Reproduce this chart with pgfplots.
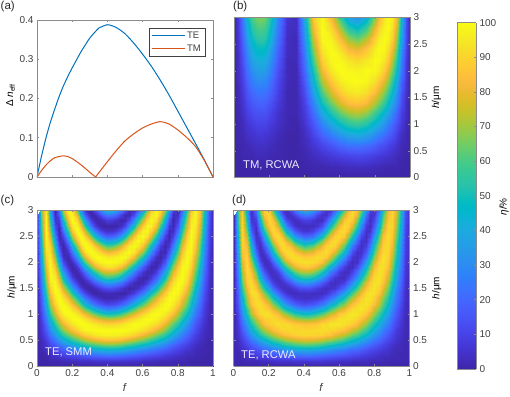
\documentclass[border=0pt]{standalone}
\usepackage{fontspec}
\setmainfont{Liberation Sans}
\usepackage{pgfplots}
\usepackage{pgfplotstable}
\pgfplotsset{compat=1.18}

\pgfplotsset{colormap={parula}{
rgb=(0.2422,0.1504,0.6603) rgb=(0.2504,0.1650,0.7076) rgb=(0.2578,0.1818,0.7511) rgb=(0.2647,0.1978,0.7952)
rgb=(0.2706,0.2147,0.8364) rgb=(0.2751,0.2342,0.8710) rgb=(0.2783,0.2559,0.8991) rgb=(0.2803,0.2782,0.9221)
rgb=(0.2813,0.3006,0.9414) rgb=(0.2810,0.3228,0.9579) rgb=(0.2795,0.3447,0.9717) rgb=(0.2760,0.3667,0.9829)
rgb=(0.2699,0.3892,0.9906) rgb=(0.2602,0.4123,0.9952) rgb=(0.2440,0.4358,0.9988) rgb=(0.2206,0.4603,0.9973)
rgb=(0.1963,0.4847,0.9892) rgb=(0.1834,0.5074,0.9798) rgb=(0.1786,0.5289,0.9682) rgb=(0.1764,0.5499,0.9520)
rgb=(0.1687,0.5703,0.9359) rgb=(0.1540,0.5902,0.9218) rgb=(0.1460,0.6091,0.9079) rgb=(0.1380,0.6276,0.8973)
rgb=(0.1248,0.6459,0.8883) rgb=(0.1113,0.6635,0.8763) rgb=(0.0952,0.6798,0.8598) rgb=(0.0689,0.6948,0.8394)
rgb=(0.0297,0.7082,0.8163) rgb=(0.0036,0.7203,0.7917) rgb=(0.0067,0.7312,0.7660) rgb=(0.0433,0.7411,0.7394)
rgb=(0.0964,0.7500,0.7120) rgb=(0.1408,0.7584,0.6842) rgb=(0.1717,0.7670,0.6554) rgb=(0.1938,0.7758,0.6251)
rgb=(0.2161,0.7843,0.5923) rgb=(0.2470,0.7918,0.5567) rgb=(0.2906,0.7973,0.5188) rgb=(0.3406,0.8008,0.4789)
rgb=(0.3909,0.8029,0.4354) rgb=(0.4456,0.8024,0.3909) rgb=(0.5044,0.7993,0.3480) rgb=(0.5616,0.7942,0.3045)
rgb=(0.6174,0.7876,0.2612) rgb=(0.6720,0.7793,0.2227) rgb=(0.7242,0.7698,0.1910) rgb=(0.7738,0.7598,0.1646)
rgb=(0.8203,0.7498,0.1535) rgb=(0.8634,0.7406,0.1596) rgb=(0.9035,0.7330,0.1774) rgb=(0.9393,0.7288,0.2100)
rgb=(0.9728,0.7298,0.2394) rgb=(0.9956,0.7434,0.2371) rgb=(0.9970,0.7659,0.2199) rgb=(0.9952,0.7893,0.2028)
rgb=(0.9892,0.8136,0.1885) rgb=(0.9786,0.8386,0.1766) rgb=(0.9676,0.8639,0.1643) rgb=(0.9610,0.8890,0.1537)
rgb=(0.9597,0.9135,0.1423) rgb=(0.9628,0.9373,0.1265) rgb=(0.9691,0.9606,0.1064) rgb=(0.9769,0.9839,0.0805)
}}

\definecolor{teblue}{rgb}{0,0.447,0.741}
\definecolor{tmred}{rgb}{0.85,0.325,0.098}
\definecolor{axgray}{gray}{0.55}
\definecolor{txtgray}{gray}{0.25}

\pgfplotsset{
  panel/.style={
    scale only axis, width=176pt, enlargelimits=false, axis on top,
    tick align=inside, major tick length=2pt,
    axis line style={axgray, line width=0.7pt},
    every tick/.style={axgray, line width=0.5pt},
    tick label style={font=\fontsize{10}{11}\selectfont, text=txtgray},
    label style={font=\fontsize{11.2}{12}\selectfont, text=txtgray},
    /pgf/number format/assume math mode=true,
    /pgf/number format/fixed,
    xmin=0, xmax=1, xtick={0,0.2,...,1},
    scaled ticks=false,
  },
  map/.style={
    panel, view={0}{90}, ymin=0, ymax=3, ytick={0,0.5,...,3},
    colormap name=parula, point meta min=0, point meta max=100,
    ylabel={\textit{h}/μm},
  },
  every axis x label/.style={at={(axis description cs:0.5,-0.16)},anchor=center},
  mapsurf/.style={surf, shader=interp, mesh/cols=#1},
}
% map b: rows h = 0, 0.2, ... 3; in each row f = 0 ... 0.2 by 0.025, ... 0.8 by 0.05, ... 1 by 0.025
\def\gridf{0.025*min(mod(\coordindex,29),8)+0.05*max(min(mod(\coordindex,29),20)-8,0)+0.025*max(mod(\coordindex,29)-20,0)}
\def\gridh{floor(\coordindex/29)*0.2}
% maps c and d: rows h = 0, 0.1, ... 3; in each row f = 0, 0.025, ... 1
\def\finef{mod(\coordindex,41)*0.025}
\def\fineh{floor(\coordindex/41)*0.1}

\pgfplotstableread{
f te tm
0 0 0
0.025 0.052 0.016
0.05 0.098 0.030
0.075 0.138 0.041
0.1 0.172 0.049
0.125 0.204 0.052
0.15 0.232 0.054
0.175 0.256 0.052
0.2 0.278 0.047
0.25 0.319 0.031
0.3 0.354 0.012
0.333 0.371 0
0.35 0.379 0.010
0.4 0.388 0.039
0.45 0.381 0.067
0.5 0.365 0.092
0.55 0.341 0.110
0.6 0.313 0.125
0.65 0.282 0.135
0.7 0.247 0.141
0.75 0.209 0.135
0.8 0.168 0.120
0.85 0.127 0.101
0.9 0.086 0.078
0.95 0.044 0.043
1 0 0
}\neff

\pgfplotstableread[row sep=\\,header=false]{
0\\0\\0\\0\\0\\0\\0\\0\\0\\0\\0\\0\\0\\0\\0\\0\\0\\0\\0\\0\\0\\0\\0\\0\\0\\0\\0\\0\\0\\
0\\0\\0\\0\\0\\0\\0\\0\\0\\0\\0\\0\\0\\1\\1\\2\\2\\3\\3\\3\\2\\2\\1\\1\\1\\1\\0\\0\\0\\
0\\0\\1\\1\\1\\2\\2\\2\\1\\1\\0\\0\\1\\3\\5\\7\\9\\10\\11\\10\\8\\7\\6\\5\\4\\2\\1\\0\\0\\
0\\0\\1\\2\\3\\4\\4\\4\\3\\1\\0\\0\\2\\6\\11\\15\\20\\23\\24\\22\\18\\15\\13\\10\\8\\5\\2\\1\\0\\
0\\1\\2\\4\\5\\6\\7\\6\\5\\2\\0\\0\\3\\10\\19\\26\\33\\38\\40\\37\\30\\26\\22\\18\\14\\8\\4\\1\\0\\
0\\1\\3\\6\\8\\10\\10\\10\\8\\4\\1\\0\\5\\15\\28\\39\\48\\54\\57\\53\\44\\39\\33\\26\\21\\13\\7\\2\\0\\
0\\1\\5\\9\\12\\14\\14\\14\\11\\5\\1\\1\\7\\21\\39\\52\\63\\70\\73\\69\\58\\52\\44\\37\\29\\19\\9\\3\\0\\
0\\2\\6\\12\\16\\18\\19\\18\\15\\7\\1\\1\\9\\28\\50\\65\\77\\84\\86\\83\\72\\65\\57\\47\\38\\25\\13\\3\\0\\
0\\2\\8\\15\\21\\23\\24\\23\\20\\9\\1\\1\\12\\36\\61\\77\\88\\94\\96\\93\\84\\77\\68\\58\\47\\31\\16\\5\\0\\
0\\3\\10\\19\\26\\29\\30\\29\\24\\11\\2\\1\\15\\44\\72\\87\\96\\99\\100\\99\\93\\87\\79\\69\\56\\38\\20\\6\\0\\
0\\4\\12\\23\\31\\35\\36\\35\\29\\13\\2\\1\\19\\51\\81\\95\\100\\99\\98\\100\\99\\95\\88\\78\\65\\45\\25\\7\\0\\
0\\4\\15\\27\\37\\41\\42\\41\\34\\16\\2\\2\\22\\59\\89\\99\\99\\94\\91\\95\\100\\99\\95\\87\\74\\53\\29\\8\\0\\
0\\5\\18\\31\\42\\47\\48\\47\\40\\19\\3\\2\\26\\67\\95\\100\\93\\83\\79\\86\\97\\100\\99\\93\\82\\60\\34\\10\\0\\
0\\6\\21\\36\\48\\53\\55\\53\\46\\22\\3\\2\\30\\74\\99\\97\\84\\70\\64\\73\\90\\97\\100\\98\\89\\67\\39\\12\\0\\
0\\7\\24\\41\\54\\59\\61\\59\\51\\25\\4\\3\\34\\81\\100\\91\\71\\54\\47\\57\\80\\91\\98\\100\\94\\74\\44\\13\\0\\
0\\8\\27\\46\\60\\65\\67\\65\\57\\28\\5\\3\\39\\87\\99\\82\\57\\38\\31\\41\\67\\82\\94\\100\\98\\80\\49\\15\\0\\
}\mapb

\pgfplotstableread[row sep=\\,header=false]{
0\\0\\0\\0\\0\\0\\0\\0\\0\\0\\0\\0\\0\\0\\0\\0\\0\\0\\0\\0\\0\\0\\0\\0\\0\\0\\0\\0\\0\\0\\0\\0\\0\\0\\0\\0\\0\\0\\0\\0\\0\\
0\\0\\0\\1\\1\\1\\2\\2\\3\\3\\4\\4\\4\\5\\5\\5\\5\\5\\5\\5\\5\\4\\4\\4\\3\\3\\3\\2\\2\\2\\2\\1\\1\\1\\1\\0\\0\\0\\0\\0\\0\\
0\\0\\1\\3\\4\\6\\8\\9\\11\\12\\14\\15\\17\\18\\19\\20\\21\\21\\20\\19\\18\\17\\16\\15\\13\\12\\11\\10\\9\\7\\6\\5\\4\\3\\2\\2\\1\\1\\0\\0\\0\\
0\\1\\3\\6\\9\\13\\16\\20\\23\\26\\29\\32\\35\\38\\40\\41\\42\\42\\41\\40\\38\\35\\33\\30\\28\\26\\23\\21\\19\\16\\14\\11\\9\\7\\5\\4\\2\\1\\1\\0\\0\\
0\\2\\5\\11\\16\\22\\28\\33\\38\\43\\48\\52\\57\\59\\62\\64\\65\\65\\64\\62\\59\\57\\53\\50\\46\\43\\39\\35\\32\\27\\23\\19\\15\\12\\9\\6\\4\\2\\1\\0\\0\\
0\\2\\8\\16\\25\\33\\41\\48\\55\\61\\67\\72\\76\\79\\82\\84\\85\\85\\84\\82\\79\\76\\73\\69\\65\\61\\56\\51\\46\\41\\35\\29\\23\\19\\14\\10\\7\\4\\2\\0\\0\\
0\\4\\12\\23\\34\\45\\55\\63\\70\\77\\83\\88\\91\\94\\96\\97\\97\\97\\97\\96\\94\\92\\89\\85\\81\\77\\72\\66\\61\\54\\47\\40\\33\\26\\20\\14\\9\\5\\3\\1\\0\\
0\\5\\16\\30\\44\\57\\68\\77\\84\\90\\95\\98\\99\\100\\100\\100\\100\\100\\100\\100\\100\\99\\98\\96\\93\\90\\86\\80\\75\\67\\59\\51\\42\\34\\26\\19\\13\\7\\3\\1\\0\\
0\\6\\21\\38\\55\\69\\80\\89\\94\\98\\100\\100\\98\\96\\94\\92\\91\\91\\92\\94\\96\\98\\100\\100\\99\\98\\95\\92\\87\\79\\71\\62\\53\\42\\33\\24\\16\\10\\5\\1\\0\\
0\\8\\26\\46\\65\\79\\90\\96\\99\\100\\98\\94\\89\\84\\79\\76\\74\\74\\76\\79\\84\\89\\93\\96\\99\\100\\100\\98\\95\\89\\82\\73\\63\\52\\41\\30\\20\\12\\6\\1\\0\\
0\\10\\31\\55\\75\\89\\97\\100\\99\\95\\89\\81\\73\\65\\58\\54\\51\\52\\54\\59\\65\\72\\79\\85\\91\\95\\99\\100\\99\\96\\90\\83\\72\\60\\48\\36\\25\\15\\7\\2\\0\\
0\\12\\37\\63\\83\\95\\100\\99\\93\\85\\74\\63\\52\\44\\36\\31\\28\\29\\31\\37\\43\\51\\61\\70\\78\\85\\92\\97\\99\\100\\97\\91\\80\\69\\56\\42\\29\\17\\8\\2\\0\\
0\\14\\42\\71\\90\\99\\99\\93\\83\\70\\57\\43\\32\\23\\16\\13\\10\\11\\13\\17\\23\\31\\41\\51\\61\\70\\80\\89\\95\\99\\100\\96\\88\\77\\63\\48\\34\\21\\10\\2\\0\\
0\\16\\48\\78\\95\\100\\94\\83\\69\\53\\38\\24\\14\\8\\4\\2\\1\\1\\2\\4\\7\\14\\22\\31\\42\\53\\65\\77\\87\\95\\100\\99\\94\\83\\70\\54\\39\\24\\12\\3\\0\\
0\\18\\54\\84\\99\\98\\86\\70\\53\\35\\20\\10\\3\\0\\0\\1\\2\\2\\1\\0\\0\\3\\8\\15\\25\\36\\49\\62\\75\\88\\97\\100\\98\\90\\77\\61\\44\\27\\13\\3\\0\\
0\\21\\60\\90\\100\\93\\75\\56\\36\\20\\7\\1\\0\\2\\7\\11\\13\\13\\11\\6\\3\\0\\1\\4\\11\\20\\33\\46\\61\\77\\90\\98\\100\\95\\83\\67\\49\\31\\15\\4\\0\\
0\\23\\66\\94\\99\\85\\62\\40\\22\\8\\1\\1\\6\\14\\22\\29\\33\\31\\28\\22\\14\\7\\2\\0\\2\\8\\18\\31\\47\\65\\82\\94\\100\\98\\89\\73\\54\\35\\17\\4\\0\\
0\\26\\71\\98\\96\\76\\48\\26\\10\\1\\1\\8\\20\\31\\44\\51\\56\\54\\51\\43\\32\\21\\11\\3\\0\\1\\7\\18\\32\\51\\71\\88\\98\\100\\93\\78\\59\\38\\19\\5\\0\\
0\\29\\76\\99\\91\\65\\35\\14\\2\\1\\8\\22\\39\\53\\66\\74\\77\\76\\73\\65\\54\\41\\26\\14\\5\\1\\1\\7\\20\\38\\59\\79\\93\\100\\96\\84\\64\\42\\21\\6\\0\\
0\\32\\81\\100\\84\\53\\22\\5\\0\\6\\22\\41\\60\\74\\85\\90\\93\\93\\90\\84\\75\\61\\45\\30\\16\\6\\0\\1\\9\\25\\47\\69\\88\\99\\99\\89\\70\\46\\24\\6\\0\\
0\\35\\85\\99\\76\\41\\12\\1\\3\\18\\40\\61\\79\\90\\97\\99\\100\\100\\99\\97\\91\\80\\65\\49\\32\\17\\6\\0\\2\\14\\35\\58\\80\\96\\100\\92\\74\\50\\26\\7\\0\\
0\\38\\89\\97\\67\\29\\4\\1\\12\\33\\58\\79\\93\\99\\100\\98\\96\\96\\98\\100\\99\\94\\83\\67\\51\\32\\16\\4\\0\\6\\23\\47\\71\\91\\100\\95\\78\\54\\28\\7\\0\\
0\\41\\93\\93\\57\\19\\1\\5\\24\\50\\76\\93\\100\\98\\92\\86\\81\\83\\86\\93\\98\\100\\95\\83\\68\\50\\30\\12\\2\\1\\14\\36\\62\\86\\99\\98\\83\\58\\31\\8\\0\\
0\\44\\96\\89\\46\\10\\0\\14\\40\\67\\90\\100\\97\\89\\76\\67\\60\\62\\67\\77\\88\\97\\100\\96\\84\\67\\46\\25\\8\\0\\6\\25\\52\\79\\96\\99\\87\\61\\33\\9\\0\\
0\\47\\98\\83\\37\\4\\4\\26\\57\\83\\98\\98\\87\\71\\54\\44\\38\\39\\44\\56\\70\\85\\96\\100\\95\\82\\63\\40\\18\\3\\2\\16\\42\\71\\93\\100\\90\\65\\36\\10\\0\\
0\\50\\99\\76\\27\\1\\11\\41\\72\\94\\100\\89\\69\\50\\32\\23\\17\\18\\22\\33\\48\\67\\85\\97\\100\\94\\78\\55\\31\\9\\0\\9\\32\\63\\89\\100\\93\\69\\38\\10\\0\\
0\\53\\100\\68\\18\\0\\22\\56\\85\\100\\93\\74\\48\\29\\14\\7\\4\\4\\7\\15\\27\\47\\68\\86\\98\\99\\90\\71\\45\\18\\2\\3\\23\\54\\83\\99\\95\\73\\41\\11\\0\\
0\\56\\100\\60\\11\\3\\34\\70\\95\\99\\81\\54\\28\\11\\2\\0\\0\\0\\0\\3\\10\\27\\48\\71\\89\\99\\98\\84\\60\\30\\6\\1\\15\\45\\77\\98\\97\\76\\44\\12\\0\\
0\\59\\99\\52\\5\\8\\48\\83\\100\\91\\64\\35\\11\\2\\1\\4\\8\\7\\4\\0\\1\\10\\29\\52\\74\\92\\100\\94\\74\\43\\14\\0\\9\\37\\70\\95\\99\\79\\47\\13\\0\\
0\\62\\98\\44\\2\\16\\61\\93\\99\\79\\45\\17\\2\\1\\9\\18\\24\\22\\18\\8\\1\\1\\12\\33\\57\\80\\96\\99\\86\\57\\23\\2\\4\\28\\63\\92\\100\\83\\49\\14\\0\\
0\\65\\96\\36\\0\\26\\75\\99\\93\\63\\28\\5\\1\\10\\25\\38\\46\\44\\37\\25\\11\\1\\2\\16\\38\\65\\88\\100\\94\\70\\35\\7\\1\\21\\55\\88\\100\\85\\52\\15\\0\\
}\mapc

\pgfplotstableread[row sep=\\,header=false]{
0\\0\\0\\0\\0\\0\\0\\0\\0\\0\\0\\0\\0\\0\\0\\0\\0\\0\\0\\0\\0\\0\\0\\0\\0\\0\\0\\0\\0\\0\\0\\0\\0\\0\\0\\0\\0\\0\\0\\0\\0\\
1\\1\\1\\2\\2\\2\\3\\3\\4\\4\\5\\5\\5\\5\\6\\6\\6\\6\\6\\6\\6\\5\\5\\5\\4\\4\\4\\3\\3\\3\\3\\2\\2\\2\\2\\1\\1\\1\\1\\1\\1\\
1\\1\\2\\4\\5\\7\\9\\10\\12\\13\\15\\15\\17\\18\\19\\20\\20\\21\\20\\19\\18\\17\\16\\15\\14\\13\\12\\11\\10\\8\\7\\6\\5\\4\\3\\3\\2\\2\\1\\1\\1\\
1\\2\\4\\7\\10\\13\\16\\20\\22\\25\\28\\30\\33\\35\\38\\38\\39\\39\\38\\37\\36\\33\\31\\28\\27\\25\\22\\20\\19\\16\\14\\11\\10\\8\\6\\5\\3\\2\\2\\1\\1\\
1\\3\\6\\11\\16\\21\\26\\31\\36\\41\\44\\49\\53\\55\\58\\59\\61\\60\\60\\58\\56\\53\\50\\47\\44\\41\\37\\34\\31\\27\\23\\19\\16\\13\\10\\7\\5\\3\\2\\1\\1\\
1\\3\\9\\16\\24\\31\\38\\44\\51\\57\\62\\66\\70\\73\\75\\77\\78\\78\\77\\76\\74\\71\\69\\65\\62\\58\\53\\49\\44\\39\\34\\29\\24\\20\\15\\11\\8\\5\\3\\1\\1\\
1\\5\\12\\23\\33\\43\\52\\59\\66\\72\\78\\82\\85\\87\\89\\90\\91\\90\\91\\89\\90\\86\\86\\80\\78\\73\\69\\63\\59\\52\\46\\40\\33\\27\\21\\15\\10\\6\\4\\2\\1\\
1\\6\\16\\29\\41\\53\\63\\71\\78\\84\\87\\90\\90\\92\\90\\91\\91\\91\\91\\92\\92\\92\\91\\90\\87\\85\\81\\76\\71\\64\\57\\49\\41\\34\\26\\20\\14\\8\\4\\2\\1\\
1\\7\\21\\37\\52\\65\\75\\84\\88\\90\\93\\92\\92\\90\\88\\87\\86\\86\\87\\88\\92\\92\\95\\95\\95\\93\\91\\88\\84\\76\\69\\60\\52\\42\\33\\25\\17\\11\\6\\2\\1\\
1\\9\\25\\43\\60\\73\\83\\88\\90\\91\\89\\87\\82\\78\\73\\71\\69\\69\\71\\74\\79\\83\\87\\90\\93\\94\\94\\93\\90\\85\\78\\70\\60\\50\\40\\30\\21\\13\\7\\2\\1\\
1\\11\\30\\52\\71\\84\\91\\93\\93\\88\\84\\75\\69\\61\\55\\51\\49\\49\\52\\56\\62\\68\\76\\80\\88\\90\\94\\95\\94\\91\\86\\79\\69\\58\\47\\36\\25\\16\\8\\3\\1\\
1\\13\\35\\58\\77\\87\\92\\91\\86\\79\\69\\59\\49\\42\\35\\30\\28\\29\\31\\36\\42\\48\\58\\66\\74\\80\\87\\92\\93\\95\\91\\86\\76\\66\\54\\41\\29\\18\\9\\3\\1\\
2\\15\\40\\67\\85\\92\\92\\87\\79\\66\\55\\41\\31\\23\\17\\14\\12\\13\\15\\18\\24\\30\\40\\48\\59\\66\\77\\84\\90\\93\\94\\91\\85\\74\\61\\47\\33\\22\\11\\3\\1\\
2\\17\\45\\72\\87\\92\\87\\77\\64\\50\\37\\24\\15\\10\\6\\5\\4\\4\\5\\6\\9\\15\\22\\30\\41\\50\\62\\72\\82\\89\\94\\94\\89\\79\\67\\53\\38\\25\\13\\4\\1\\
2\\19\\50\\78\\92\\92\\81\\67\\51\\34\\21\\12\\6\\3\\3\\4\\4\\4\\3\\3\\3\\5\\10\\16\\26\\35\\47\\59\\72\\82\\92\\94\\93\\86\\74\\59\\43\\27\\14\\4\\1\\
2\\21\\56\\83\\92\\86\\69\\52\\35\\20\\9\\4\\3\\5\\8\\13\\13\\14\\11\\8\\5\\3\\4\\6\\12\\20\\32\\44\\58\\72\\85\\92\\94\\90\\79\\65\\47\\31\\16\\5\\1\\
2\\23\\61\\88\\92\\80\\59\\39\\23\\9\\4\\4\\8\\15\\23\\29\\32\\31\\27\\22\\15\\9\\4\\3\\5\\9\\19\\30\\46\\61\\79\\88\\94\\93\\85\\70\\52\\35\\18\\5\\1\\
2\\26\\66\\90\\88\\71\\45\\26\\11\\4\\4\\10\\20\\31\\42\\49\\52\\52\\48\\42\\31\\22\\12\\5\\3\\3\\9\\18\\32\\48\\67\\82\\92\\94\\89\\75\\57\\38\\20\\6\\1\\
2\\28\\70\\92\\85\\61\\34\\15\\4\\4\\9\\22\\38\\51\\62\\70\\72\\72\\69\\62\\52\\40\\26\\16\\7\\3\\3\\9\\21\\37\\56\\74\\88\\94\\91\\80\\61\\41\\22\\7\\1\\
2\\31\\75\\92\\78\\50\\22\\7\\3\\8\\22\\40\\56\\70\\79\\84\\86\\87\\83\\79\\70\\58\\43\\30\\17\\8\\3\\3\\11\\25\\45\\65\\83\\93\\93\\85\\67\\45\\25\\7\\1\\
2\\33\\78\\92\\71\\39\\13\\3\\5\\19\\39\\58\\74\\84\\90\\92\\93\\93\\92\\90\\85\\75\\62\\47\\32\\18\\8\\3\\4\\15\\35\\55\\76\\90\\94\\87\\70\\48\\26\\8\\2\\
2\\36\\83\\90\\62\\28\\6\\3\\13\\33\\54\\74\\86\\92\\92\\91\\88\\89\\90\\93\\91\\88\\78\\63\\48\\32\\17\\6\\3\\8\\23\\45\\67\\86\\94\\90\\74\\52\\28\\8\\2\\
2\\39\\85\\86\\54\\19\\3\\7\\24\\48\\71\\86\\92\\91\\85\\80\\76\\78\\80\\87\\90\\93\\88\\78\\64\\48\\30\\13\\4\\4\\15\\35\\59\\81\\92\\91\\78\\55\\30\\9\\2\\
2\\42\\89\\82\\44\\11\\3\\15\\38\\63\\83\\92\\89\\83\\71\\63\\56\\59\\63\\72\\81\\90\\92\\90\\78\\63\\44\\25\\10\\3\\8\\25\\50\\75\\90\\92\\82\\58\\32\\9\\2\\
2\\44\\90\\77\\36\\6\\6\\26\\54\\77\\90\\91\\80\\67\\51\\43\\37\\38\\42\\53\\66\\80\\89\\93\\88\\77\\59\\39\\19\\5\\4\\17\\41\\67\\87\\92\\84\\61\\34\\10\\2\\
2\\47\\91\\71\\26\\4\\12\\39\\67\\87\\92\\83\\64\\48\\31\\24\\18\\19\\22\\33\\46\\63\\79\\90\\92\\88\\72\\53\\30\\11\\3\\11\\32\\60\\84\\93\\87\\65\\36\\10\\2\\
2\\49\\91\\63\\18\\3\\23\\52\\78\\91\\85\\69\\45\\29\\15\\9\\6\\6\\9\\16\\27\\45\\64\\81\\90\\92\\84\\67\\43\\19\\4\\5\\23\\51\\78\\91\\88\\68\\39\\11\\2\\
2\\52\\91\\55\\12\\5\\33\\65\\87\\90\\75\\52\\28\\13\\5\\3\\3\\3\\3\\5\\12\\27\\46\\67\\82\\92\\90\\79\\56\\30\\7\\3\\16\\43\\72\\91\\91\\71\\41\\12\\2\\
2\\55\\90\\48\\6\\9\\45\\76\\90\\84\\59\\35\\12\\5\\3\\6\\9\\9\\6\\3\\3\\12\\28\\50\\68\\86\\91\\88\\68\\42\\14\\3\\10\\35\\65\\87\\90\\73\\44\\13\\2\\
2\\57\\90\\41\\4\\16\\57\\85\\91\\73\\42\\18\\4\\4\\10\\19\\23\\23\\18\\10\\4\\4\\13\\33\\54\\75\\88\\92\\79\\55\\22\\4\\6\\28\\60\\85\\92\\77\\46\\14\\2\\
2\\60\\87\\34\\3\\25\\68\\89\\85\\59\\27\\8\\4\\12\\25\\37\\42\\42\\34\\25\\12\\4\\4\\17\\36\\61\\80\\93\\85\\66\\33\\9\\3\\21\\51\\81\\90\\78\\48\\14\\2\\
}\mapd

\begin{document}
\begin{tikzpicture}
\useasboundingbox (0pt,0pt) rectangle (510pt,396pt);

% (a)
\begin{axis}[panel, at={(37pt,219pt)}, anchor=south west, height=157pt,
    ymin=0, ymax=0.4, ytick={0,0.1,...,0.4}, xticklabels={},
    ylabel={Δ \textit{n}\textsubscript{eff}},
    every axis y label/.style={at={(axis description cs:-0.15,0.52)},anchor=center,rotate=90},
    legend cell align=left,
    legend style={at={(0.955,0.949)}, anchor=north east, draw=txtgray, line width=0.5pt,
      font=\fontsize{9.5}{10}\selectfont, text=txtgray, inner xsep=2pt, inner ysep=1.5pt,
      row sep=1pt},
    legend image code/.code={\draw[#1] (0pt,0pt) -- (33pt,0pt);},
  ]
  \addplot[teblue, line width=1pt, smooth, tension=0.4, forget plot] table[x=f, y=te] {\neff};
  \addplot[tmred, line width=1pt, smooth, tension=0.4, restrict x to domain=0:0.3331, forget plot] table[x=f, y=tm] {\neff};
  \addplot[tmred, line width=1pt, smooth, tension=0.4, restrict x to domain=0.3329:1, forget plot] table[x=f, y=tm] {\neff};
  \addlegendimage{teblue, line width=1pt}
  \addlegendimage{tmred, line width=1pt}
  \legend{TE, TM}
\end{axis}

% (b)
\begin{axis}[map, at={(234pt,218.5pt)}, anchor=south west, height=160pt,
    xticklabels={}, yticklabel pos=right,
    every axis y label/.style={at={(axis description cs:1.15,0.5)},anchor=center,rotate=90},
  ]
  \addplot3[mapsurf=29] table[x index=0, y index=0, z index=0, x expr=\gridf, y expr=\gridh, z expr=\thisrowno{0}] {\mapb};
\end{axis}

% (c)
\begin{axis}[map, at={(37pt,30pt)}, anchor=south west, height=156pt,
    xlabel={\textit{f}},
    every axis y label/.style={at={(axis description cs:-0.142,0.506)},anchor=center,rotate=90},
  ]
  \addplot3[mapsurf=41] table[x index=0, y index=0, z index=0, x expr=\finef, y expr=\fineh, z expr=\thisrowno{0}] {\mapc};
\end{axis}

% (d)
\begin{axis}[map, at={(233.5pt,30pt)}, anchor=south west, height=156pt,
    xlabel={\textit{f}}, yticklabel pos=right,
    every axis y label/.style={at={(axis description cs:1.155,0.5)},anchor=center,rotate=90},
  ]
  \addplot3[mapsurf=41] table[x index=0, y index=0, z index=0, x expr=\finef, y expr=\fineh, z expr=\thisrowno{0}] {\mapd};
\end{axis}

% colour bar
\begin{axis}[panel, view={0}{90}, at={(457pt,27pt)}, anchor=south west, width=19pt, height=346.4pt,
    xmin=0, xmax=1, xtick=\empty, ymin=0, ymax=100, ytick={0,10,...,100},
    ytick pos=right, yticklabel pos=right,
    colormap name=parula, point meta min=0, point meta max=100,
    ylabel={\textit{η}/\%},
    every axis y label/.style={at={(axis description cs:2.47,0.468)},anchor=center,rotate=90},
  ]
  \addplot3[surf, shader=interp, mesh/cols=2] coordinates {
    (0,0,0) (1,0,0)
    (0,10,10) (1,10,10)
    (0,20,20) (1,20,20)
    (0,30,30) (1,30,30)
    (0,40,40) (1,40,40)
    (0,50,50) (1,50,50)
    (0,60,60) (1,60,60)
    (0,70,70) (1,70,70)
    (0,80,80) (1,80,80)
    (0,90,90) (1,90,90)
    (0,100,100) (1,100,100)
  };
\end{axis}

% panel letters and captions
\tikzset{letter/.style={anchor=west, inner sep=0pt, font=\fontsize{11.5}{12}\selectfont, text=black!85},
  caption/.style={anchor=west, inner sep=0pt, font=\fontsize{11.2}{12}\selectfont, text=white!92!blue}}
\node[letter] at (0.5pt,389pt) {(a)};
\node[letter] at (233pt,389pt) {(b)};
\node[letter] at (0.5pt,195pt) {(c)};
\node[letter] at (232pt,195pt) {(d)};
\node[caption] at (243pt,231pt) {TM, RCWA};
\node[caption] at (45pt,44pt) {TE, SMM};
\node[caption] at (241pt,41pt) {TE, RCWA};
\end{tikzpicture}
\end{document}
